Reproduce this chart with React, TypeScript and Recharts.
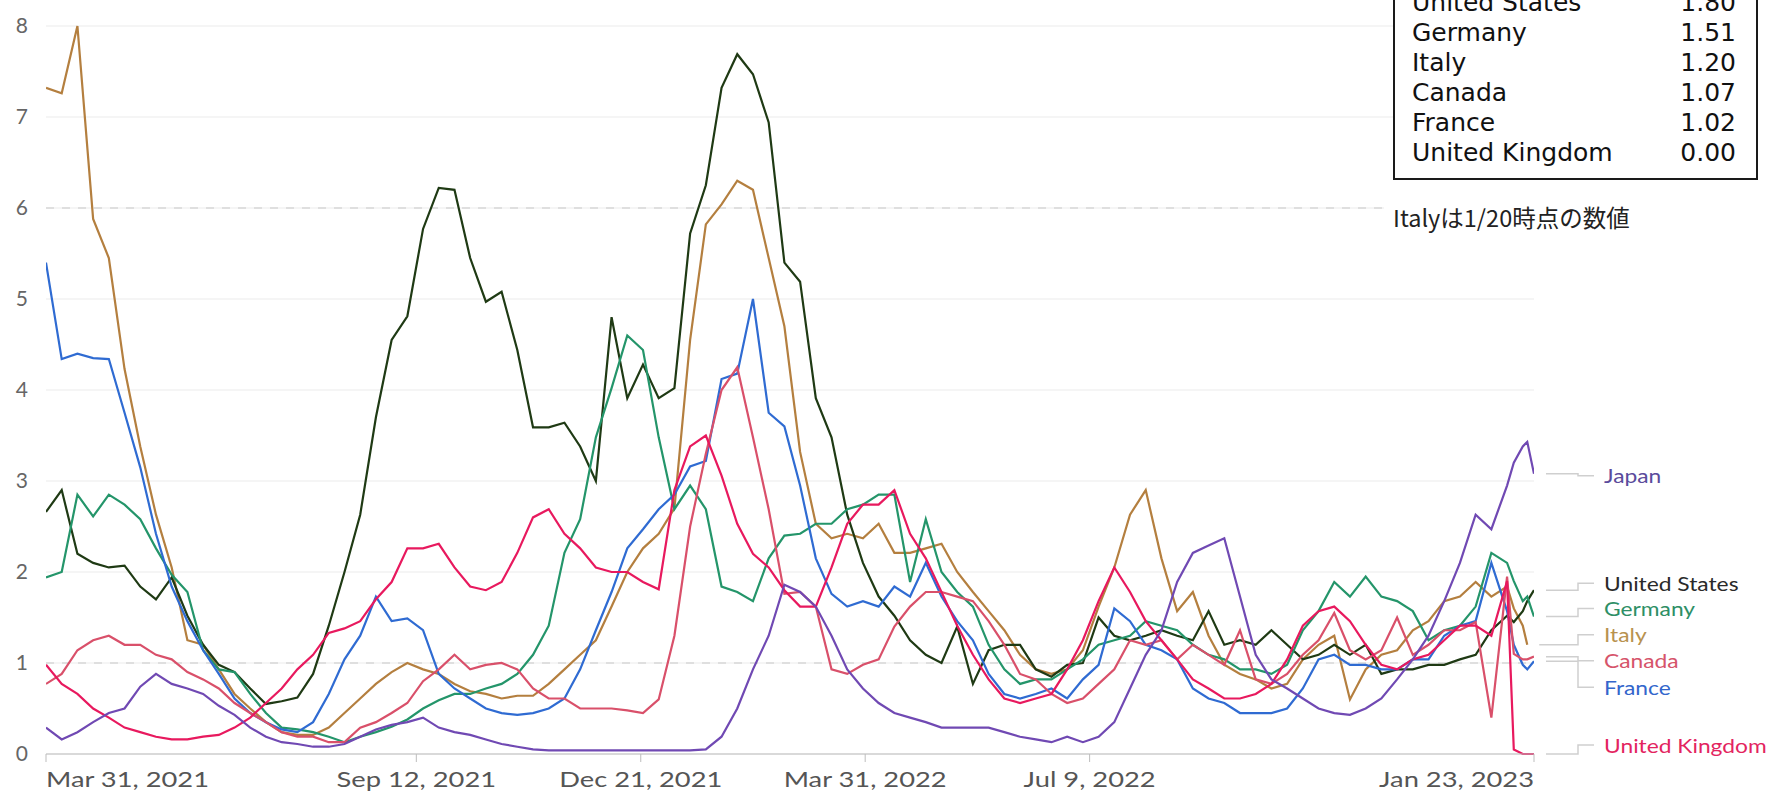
import React from 'react';
import { LineChart, Line, XAxis, YAxis, CartesianGrid, ReferenceLine, ReferenceDot } from 'recharts';

// ---- categories: days since Mar 31, 2021 ----
const days = [
  0, 7, 14, 21, 28, 35, 42,
  49, 56, 63, 70, 77, 84, 91,
  98, 105, 112, 119, 126, 133, 140,
  147, 154, 161, 168, 175, 182, 189,
  196, 203, 210, 217, 224, 231, 238,
  245, 252, 259, 266, 273, 280, 287,
  294, 301, 308, 315, 322, 329, 336,
  343, 350, 357, 364, 371, 378, 385,
  392, 399, 406, 413, 420, 427, 434,
  441, 448, 455, 462, 469, 476, 483,
  490, 497, 504, 511, 518, 525, 532,
  539, 546, 553, 560, 567, 574, 581,
  588, 595, 602, 609, 616, 623, 630,
  637, 644, 651, 654, 658, 660, 663,
];

const tickDays = [0, 165, 265, 365, 465, 663];
const tickLabels = ['Mar 31, 2021', 'Sep 12, 2021', 'Dec 21, 2021', 'Mar 31, 2022', 'Jul 9, 2022', 'Jan 23, 2023'];
const yTicks = [0, 1, 2, 3, 4, 5, 6, 7, 8];

// ---- series values ----
const japan = [
  0.29, 0.16, 0.24, 0.35, 0.45, 0.5, 0.74,
  0.88, 0.77, 0.72, 0.66, 0.53, 0.43, 0.29,
  0.19, 0.13, 0.11, 0.08, 0.08, 0.11, 0.19,
  0.27, 0.32, 0.35, 0.4, 0.29, 0.24, 0.21,
  0.16, 0.11, 0.08, 0.05, 0.04, 0.04, 0.04,
  0.04, 0.04, 0.04, 0.04, 0.04, 0.04, 0.04,
  0.05, 0.19, 0.5, 0.93, 1.3, 1.86, 1.78,
  1.62, 1.3, 0.93, 0.72, 0.56, 0.45, 0.4,
  0.35, 0.29, 0.29, 0.29, 0.29, 0.24, 0.19,
  0.16, 0.13, 0.19, 0.13, 0.19, 0.35, 0.72,
  1.09, 1.36, 1.89, 2.21, 2.29, 2.37, 1.73,
  1.09, 0.82, 0.72, 0.61, 0.5, 0.45, 0.43,
  0.5, 0.61, 0.82, 1.04, 1.3, 1.68, 2.1,
  2.63, 2.47, 2.95, 3.2, 3.38, 3.43, 3.08,
];
const unitedStates = [
  2.66, 2.9, 2.2, 2.1, 2.05, 2.07, 1.84,
  1.7, 1.94, 1.52, 1.2, 0.98, 0.9, 0.72,
  0.55, 0.58, 0.62, 0.88, 1.41, 2.0, 2.63,
  3.7, 4.55, 4.81, 5.77, 6.22, 6.2, 5.45,
  4.97, 5.08, 4.44, 3.59, 3.59, 3.64, 3.38,
  3.0, 4.8, 3.91, 4.28, 3.91, 4.02, 5.72,
  6.25, 7.32, 7.69, 7.47, 6.94, 5.4, 5.19,
  3.91, 3.48, 2.63, 2.1, 1.73, 1.52, 1.25,
  1.09, 1.0, 1.4, 0.77, 1.14, 1.2, 1.2,
  0.93, 0.85, 0.98, 1.0, 1.5, 1.3, 1.25,
  1.3, 1.36, 1.3, 1.25, 1.57, 1.2, 1.25,
  1.2, 1.36, 1.2, 1.04, 1.09, 1.2, 1.09,
  1.2, 0.88, 0.93, 0.93, 0.98, 0.98, 1.04,
  1.09, 1.36, 1.52, 1.45, 1.57, 1.68, 1.8,
];
const germany = [
  1.94, 2.0, 2.85, 2.61, 2.85, 2.74, 2.58,
  2.26, 1.97, 1.78, 1.14, 0.93, 0.9, 0.66,
  0.45, 0.29, 0.27, 0.24, 0.19, 0.13, 0.19,
  0.24, 0.3, 0.38, 0.5, 0.59, 0.66, 0.66,
  0.72, 0.77, 0.88, 1.09, 1.41, 2.21, 2.58,
  3.48, 4.02, 4.6, 4.44, 3.48, 2.69, 2.95,
  2.69, 1.84, 1.78, 1.68, 2.15, 2.4, 2.42,
  2.53, 2.53, 2.69, 2.74, 2.85, 2.85, 1.89,
  2.58, 2.0, 1.78, 1.62, 1.2, 0.93, 0.77,
  0.82, 0.82, 0.93, 1.04, 1.2, 1.25, 1.3,
  1.46, 1.41, 1.36, 1.2, 1.09, 1.04, 0.93,
  0.93, 0.88, 0.98, 1.36, 1.57, 1.89, 1.73,
  1.95, 1.73, 1.68, 1.57, 1.25, 1.36, 1.41,
  1.62, 2.21, 2.1, 1.9, 1.68, 1.73, 1.51,
];
const italy = [
  7.32, 7.26, 8.0, 5.88, 5.45, 4.23, 3.38,
  2.63, 2.05, 1.25, 1.2, 0.93, 0.66, 0.5,
  0.35, 0.24, 0.21, 0.21, 0.29, 0.45, 0.61,
  0.77, 0.9, 1.0, 0.93, 0.88, 0.77, 0.69,
  0.66, 0.61, 0.64, 0.64, 0.77, 0.93, 1.09,
  1.25, 1.62, 2.0, 2.26, 2.42, 2.7, 4.55,
  5.82, 6.04, 6.3, 6.2, 5.45, 4.7, 3.32,
  2.53, 2.37, 2.42, 2.37, 2.53, 2.21, 2.21,
  2.26, 2.31, 2.0, 1.78, 1.57, 1.36, 1.09,
  0.93, 0.88, 0.93, 1.14, 1.62, 2.05, 2.63,
  2.9, 2.15, 1.57, 1.78, 1.3, 0.98, 0.88,
  0.82, 0.72, 0.77, 1.04, 1.2, 1.3, 0.6,
  0.93, 1.09, 1.14, 1.36, 1.46, 1.68, 1.73,
  1.89, 1.73, 1.84, 1.6, 1.41, 1.2, null,
];
const canada = [
  0.77, 0.88, 1.14, 1.25, 1.3, 1.2, 1.2,
  1.09, 1.04, 0.9, 0.82, 0.72, 0.56, 0.45,
  0.35, 0.24, 0.19, 0.19, 0.13, 0.13, 0.29,
  0.35, 0.45, 0.56, 0.8, 0.93, 1.09, 0.93,
  0.98, 1.0, 0.93, 0.72, 0.61, 0.61, 0.5,
  0.5, 0.5, 0.48, 0.45, 0.6, 1.3, 2.5,
  3.3, 4.0, 4.25, 3.48, 2.69, 1.76, 1.78,
  1.62, 0.93, 0.88, 0.98, 1.04, 1.4, 1.62,
  1.78, 1.78, 1.73, 1.68, 1.46, 1.2, 0.88,
  0.82, 0.66, 0.56, 0.61, 0.77, 0.93, 1.25,
  1.2, 1.25, 1.04, 1.2, 1.09, 0.98, 1.36,
  0.82, 0.77, 0.88, 1.09, 1.25, 1.55, 1.14,
  1.04, 1.14, 1.5, 1.09, 1.2, 1.36, 1.36,
  1.45, 0.4, 1.95, 1.1, 1.04, 1.04, 1.07,
];
const france = [
  5.4, 4.34, 4.4, 4.35, 4.34, 3.75, 3.15,
  2.42, 1.84, 1.46, 1.14, 0.88, 0.61, 0.45,
  0.35, 0.27, 0.24, 0.35, 0.66, 1.04, 1.3,
  1.73, 1.46, 1.49, 1.36, 0.88, 0.72, 0.61,
  0.5, 0.45, 0.43, 0.45, 0.5, 0.61, 0.93,
  1.36, 1.78, 2.26, 2.47, 2.69, 2.85, 3.16,
  3.22, 4.12, 4.18, 5.0, 3.75, 3.6, 2.95,
  2.15, 1.76, 1.62, 1.68, 1.62, 1.84, 1.73,
  2.1, 1.73, 1.46, 1.25, 0.88, 0.66, 0.61,
  0.66, 0.72, 0.61, 0.82, 0.98, 1.6, 1.46,
  1.2, 1.14, 1.04, 0.72, 0.61, 0.56, 0.45,
  0.45, 0.45, 0.5, 0.72, 1.04, 1.09, 0.98,
  0.98, 0.93, 0.93, 1.04, 1.04, 1.3, 1.41,
  1.46, 2.1, 1.57, 1.2, 0.98, 0.93, 1.02,
];
const unitedKingdom = [
  0.98, 0.77, 0.66, 0.5, 0.4, 0.29, 0.24,
  0.19, 0.16, 0.16, 0.19, 0.21, 0.29, 0.4,
  0.56, 0.72, 0.93, 1.09, 1.33, 1.38, 1.46,
  1.7, 1.89, 2.26, 2.26, 2.31, 2.05, 1.84,
  1.8, 1.89, 2.21, 2.6, 2.69, 2.42, 2.26,
  2.05, 2.0, 2.0, 1.89, 1.81, 2.9, 3.38,
  3.5, 3.06, 2.53, 2.2, 2.05, 1.8, 1.62,
  1.62, 2.05, 2.53, 2.74, 2.74, 2.9, 2.42,
  2.15, 1.78, 1.41, 1.09, 0.82, 0.61, 0.56,
  0.61, 0.66, 0.93, 1.25, 1.68, 2.05, 1.78,
  1.46, 1.25, 1.04, 0.82, 0.72, 0.61, 0.61,
  0.66, 0.77, 1.04, 1.41, 1.57, 1.62, 1.46,
  1.2, 0.98, 0.93, 1.04, 1.09, 1.25, 1.41,
  1.41, 1.3, 1.9, 0.05, 0, 0, 0,
];

const seriesNames = ['Japan', 'United States', 'Germany', 'Italy', 'Canada', 'France', 'United Kingdom'];
const seriesValues = [japan, unitedStates, germany, italy, canada, france, unitedKingdom];
const tableNames = ['United States', 'Germany', 'Italy', 'Canada', 'France', 'United Kingdom'];
const noteText = 'Italyは1/20時点の数値';

// ---- styles ----
const lineColors: Record<string, string> = {
  Japan: '#7049b3',
  'United States': '#1f3a14',
  Germany: '#24956a',
  Italy: '#b47f3f',
  Canada: '#d9506a',
  France: '#2f6bd2',
  'United Kingdom': '#e8195e',
};
const labelColors: Record<string, string> = {
  Japan: '#5b4b9c',
  'United States': '#2a2a2a',
  Germany: '#2e8f66',
  Italy: '#b8924f',
  Canada: '#d6546b',
  France: '#3366cc',
  'United Kingdom': '#e3245f',
};
// vertical displacement of each end label relative to its line end
const labelShift: Record<string, number> = {
  Japan: 2,
  'United States': -7,
  Germany: -8,
  Italy: -10,
  Canada: 4,
  France: 26,
  'United Kingdom': -9,
};
const drawOrder = ['Italy', 'United States', 'Germany', 'France', 'Canada', 'United Kingdom', 'Japan'];

const W = 1769;
const H = 794;
const MARGIN = { top: 26, right: 235, bottom: 0, left: 0 };
const Y_AXIS_W = 46;
const X_AXIS_H = 40;
const PLOT_RIGHT = W - MARGIN.right;
const PLOT_BOTTOM = H - MARGIN.bottom - X_AXIS_H;

const keyOf = (n: string) => n.replace(/\s+/g, '_');

const data = days.map((d, i) => {
  const row: Record<string, number | null> = { day: d };
  seriesNames.forEach((n, s) => {
    row[keyOf(n)] = seriesValues[s][i];
  });
  return row;
});

const lastIndex = (arr: (number | null)[]) => {
  for (let i = arr.length - 1; i >= 0; i--) if (arr[i] !== null && arr[i] !== undefined) return i;
  return -1;
};

const XTick = (props: any) => {
  const { x, payload } = props;
  const idx = tickDays.indexOf(payload.value);
  if (idx < 0) return null;
  const anchor = idx === 0 ? 'start' : idx === tickDays.length - 1 ? 'end' : 'middle';
  return (
    <g transform={`translate(${x},${PLOT_BOTTOM + 33})`}>
      <text transform="scale(1.3,1)" textAnchor={anchor} fill="#555555" fontFamily="Lato" fontSize={21}>
        {tickLabels[idx]}
      </text>
    </g>
  );
};

const makeEndShape = (name: string) => (props: any) => {
  const { cx, cy } = props;
  if (cx == null || cy == null) return <g />;
  const ly = cy + labelShift[name];
  return (
    <g>
      <path
        d={`M${cx + 12},${cy} H${PLOT_RIGHT + 44} V${ly} H${PLOT_RIGHT + 60}`}
        stroke="#cfcfcf"
        strokeWidth={1.5}
        fill="none"
      />
      <g transform={`translate(${PLOT_RIGHT + 70},${ly})`}>
        <text transform="scale(1.2,1)" dominantBaseline="central" fill={labelColors[name]} fontFamily="Lato" fontSize={19}>
          {name}
        </text>
      </g>
    </g>
  );
};

export default function App() {
  return (
    <div
      style={{
        position: 'absolute',
        left: 0,
        top: 0,
        width: W,
        height: H,
        overflow: 'hidden',
        background: '#ffffff',
      }}
    >
      <LineChart width={W} height={H} data={data} margin={MARGIN}>
        <CartesianGrid vertical={false} stroke="#f2f2f2" strokeWidth={1.5} />
        <ReferenceLine y={1} stroke="#c9c9c9" strokeDasharray="8 8" />
        <ReferenceLine y={6} stroke="#c9c9c9" strokeDasharray="8 8" />
        <XAxis
          dataKey="day"
          type="number"
          domain={[0, 663]}
          ticks={tickDays}
          height={X_AXIS_H}
          stroke="#bdbdbd"
          tickSize={8}
          tick={<XTick />}
          interval={0}
          allowDataOverflow
        />
        <YAxis
          type="number"
          domain={[0, 8]}
          ticks={yTicks}
          width={Y_AXIS_W}
          axisLine={false}
          tickLine={false}
          tickMargin={12}
          tick={{ fill: '#666666', fontSize: 21, fontFamily: 'Lato' }}
          interval={0}
        />
        {drawOrder.map((n) => (
          <Line
            key={n}
            type="linear"
            dataKey={keyOf(n)}
            name={n}
            stroke={lineColors[n]}
            strokeWidth={2.2}
            dot={false}
            activeDot={false}
            isAnimationActive={false}
            connectNulls={false}
          />
        ))}
        {seriesNames.map((n, s) => {
          const li = lastIndex(seriesValues[s]);
          return (
            <ReferenceDot
              key={`end-${n}`}
              x={days[li]}
              y={seriesValues[s][li] as number}
              r={0}
              ifOverflow="visible"
              shape={makeEndShape(n)}
            />
          );
        })}
      </LineChart>

      <div
        style={{
          position: 'absolute',
          left: 1393,
          top: -22,
          width: 365,
          boxSizing: 'border-box',
          border: '2px solid #1a1a1a',
          background: '#ffffff',
          padding: '8px 20px 10px 17px',
          fontFamily: '"DejaVu Sans", Verdana, sans-serif',
          fontSize: 25,
          lineHeight: '30px',
          color: '#111111',
        }}
      >
        {tableNames.map((n) => {
          const arr = seriesValues[seriesNames.indexOf(n)];
          const v = arr[lastIndex(arr)] as number;
          return (
            <div key={n} style={{ display: 'flex', justifyContent: 'space-between', whiteSpace: 'nowrap' }}>
              <span>{n}</span>
              <span>{v.toFixed(2)}</span>
            </div>
          );
        })}
      </div>

      <div
        style={{
          position: 'absolute',
          left: 1384,
          top: 201,
          paddingLeft: 9,
          paddingRight: 6,
          background: '#ffffff',
          fontFamily: '"Noto Sans CJK JP", sans-serif',
          fontSize: 23.5,
          lineHeight: '32px',
          color: '#222222',
          whiteSpace: 'nowrap',
        }}
      >
        {noteText}
      </div>
    </div>
  );
}
